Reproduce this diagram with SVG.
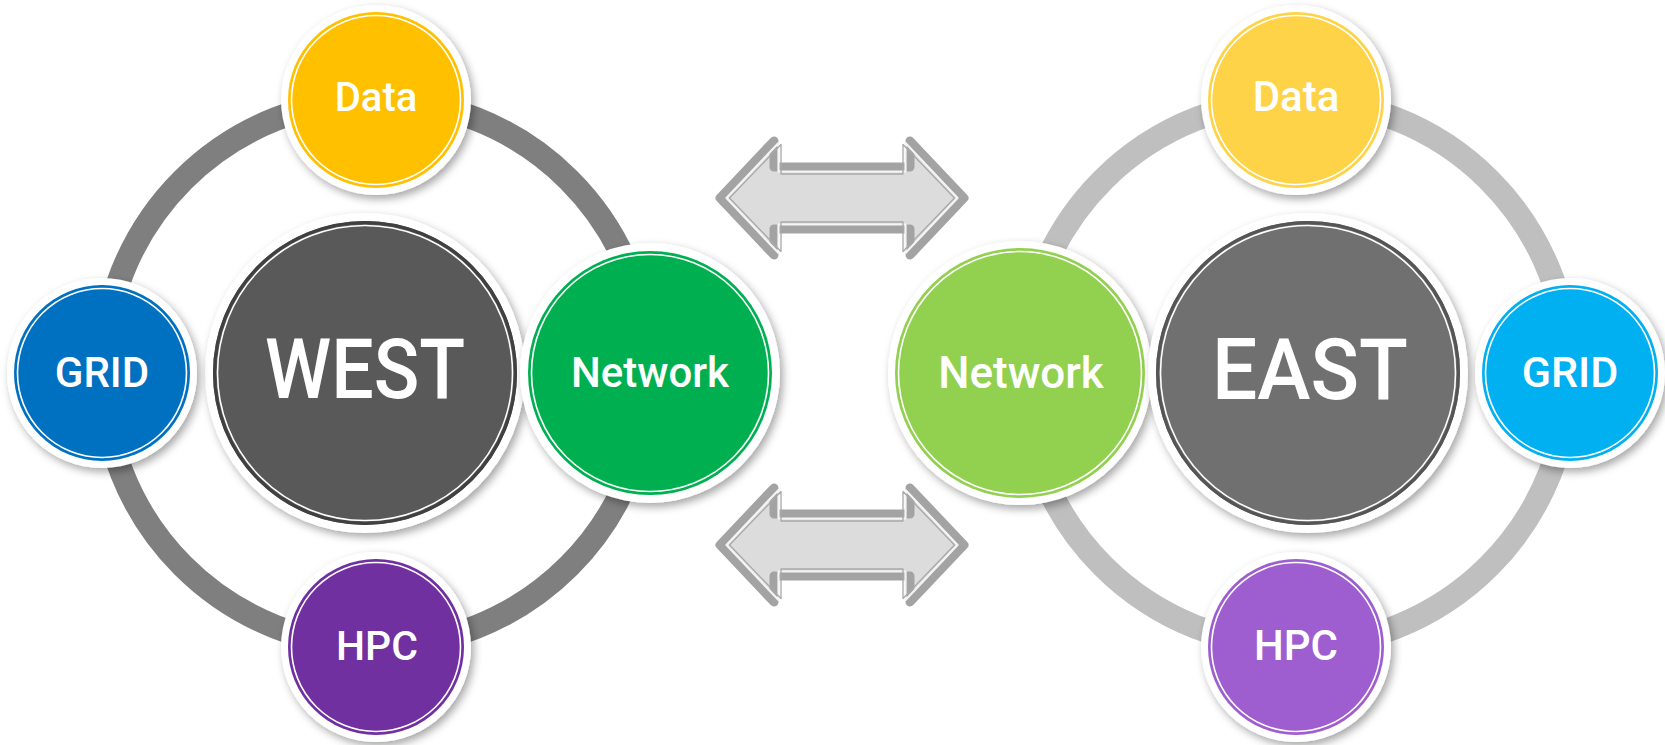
<svg xmlns="http://www.w3.org/2000/svg" width="1665" height="745" viewBox="0 0 1665 745">
<defs>
<filter id="sh" x="-20%" y="-20%" width="150%" height="150%">
<feDropShadow dx="3" dy="4" stdDeviation="4" flood-color="#000" flood-opacity="0.35"/>
</filter>
<style>
.halo{fill:#fff;filter:url(#sh)}
.inner{fill:none;stroke:#fff;stroke-width:1.6}
.lbl{font-family:Roboto,"Open Sans",sans-serif;font-weight:500;fill:#fff;text-anchor:middle}
.arr{fill:#dcdcdc;stroke:#a3a3a3;stroke-width:9;stroke-linejoin:round}
.arr2{fill:none;stroke:#f4f4f4;stroke-width:2.2;stroke-linejoin:round}
.arr3{fill:none;stroke:#a8a8a8;stroke-width:1.3;stroke-linejoin:round}
</style>
</defs>
<rect width="1665" height="745" fill="#fff"/>
<g id="connectors">
<circle cx="376" cy="373" r="273" fill="none" stroke="#7f7f7f" stroke-width="24"/>
<circle cx="1296" cy="373" r="273" fill="none" stroke="#bfbfbf" stroke-width="24"/>
<g id="arrow-top">
<path class="arr" d="M720,198 L774,141 L774,167 L910,167 L910,141 L964,198 L910,255 L910,229 L774,229 L774,255 Z"/>
<path class="arr2" d="M726.5,198 L778.5,143 L778.5,171.5 L905.5,171.5 L905.5,143 L957.5,198 L905.5,253 L905.5,224.5 L778.5,224.5 L778.5,253 Z"/>
<path class="arr3" d="M729.5,198 L781,144.5 L781,174 L903,174 L903,144.5 L954.5,198 L903,251.5 L903,222 L781,222 L781,251.5 Z"/>
</g>
<g id="arrow-bottom" transform="translate(0,347)">
<path class="arr" d="M720,198 L774,141 L774,167 L910,167 L910,141 L964,198 L910,255 L910,229 L774,229 L774,255 Z"/>
<path class="arr2" d="M726.5,198 L778.5,143 L778.5,171.5 L905.5,171.5 L905.5,143 L957.5,198 L905.5,253 L905.5,224.5 L778.5,224.5 L778.5,253 Z"/>
<path class="arr3" d="M729.5,198 L781,144.5 L781,174 L903,174 L903,144.5 L954.5,198 L903,251.5 L903,222 L781,222 L781,251.5 Z"/>
</g>
</g>
<g id="west-center">
<circle class="halo" cx="365" cy="373" r="160"/>
<circle cx="365" cy="373" r="152" fill="#595959"/>
<circle cx="365" cy="373" r="150.5" fill="none" stroke="#404040" stroke-width="3"/>
<circle class="inner" cx="365" cy="373" r="147.5"/>
<text class="lbl" x="365" y="398" font-size="84" textLength="200" lengthAdjust="spacingAndGlyphs">WEST</text>
</g>
<g id="west-data">
<circle class="halo" cx="376" cy="100" r="95"/>
<circle cx="376" cy="100" r="88" fill="#ffc000"/>
<circle class="inner" cx="376" cy="100" r="84.5"/>
<text class="lbl" x="376" y="111" font-size="40">Data</text>
</g>
<g id="west-grid">
<circle class="halo" cx="102" cy="373" r="95"/>
<circle cx="102" cy="373" r="88" fill="#0070c0"/>
<circle class="inner" cx="102" cy="373" r="84.5"/>
<text class="lbl" x="102" y="387" font-size="42">GRID</text>
</g>
<g id="west-hpc">
<circle class="halo" cx="376" cy="647" r="95"/>
<circle cx="376" cy="647" r="88" fill="#7030a0"/>
<circle class="inner" cx="376" cy="647" r="84.5"/>
<text class="lbl" x="377" y="660" font-size="41">HPC</text>
</g>
<g id="west-network">
<circle class="halo" cx="650" cy="373" r="130"/>
<circle cx="650" cy="373" r="122" fill="#00b050"/>
<circle class="inner" cx="650" cy="373" r="118.5"/>
<text class="lbl" x="650" y="387" font-size="42">Network</text>
</g>
<g id="east-network">
<circle class="halo" cx="1020" cy="373" r="132"/>
<circle cx="1020" cy="373" r="125" fill="#92d050"/>
<circle class="inner" cx="1020" cy="373" r="121.5"/>
<text class="lbl" x="1021" y="388" font-size="44">Network</text>
</g>
<g id="east-center">
<circle class="halo" cx="1308" cy="373" r="160"/>
<circle cx="1308" cy="373" r="152" fill="#707070"/>
<circle cx="1308" cy="373" r="150.5" fill="none" stroke="#555" stroke-width="3"/>
<circle class="inner" cx="1308" cy="373" r="147.5"/>
<text class="lbl" x="1310" y="399" font-size="86" textLength="196" lengthAdjust="spacingAndGlyphs">EAST</text>
</g>
<g id="east-data">
<circle class="halo" cx="1296" cy="100" r="95"/>
<circle cx="1296" cy="100" r="88" fill="#ffd347"/>
<circle class="inner" cx="1296" cy="100" r="84.5"/>
<text class="lbl" x="1296" y="111" font-size="42">Data</text>
</g>
<g id="east-grid">
<circle class="halo" cx="1570" cy="373" r="95"/>
<circle cx="1570" cy="373" r="88" fill="#00b0f0"/>
<circle class="inner" cx="1570" cy="373" r="84.5"/>
<text class="lbl" x="1570" y="387" font-size="43">GRID</text>
</g>
<g id="east-hpc">
<circle class="halo" cx="1296" cy="647" r="95"/>
<circle cx="1296" cy="647" r="88" fill="#9e5ecf"/>
<circle class="inner" cx="1296" cy="647" r="84.5"/>
<text class="lbl" x="1296" y="660" font-size="42">HPC</text>
</g>
</svg>
